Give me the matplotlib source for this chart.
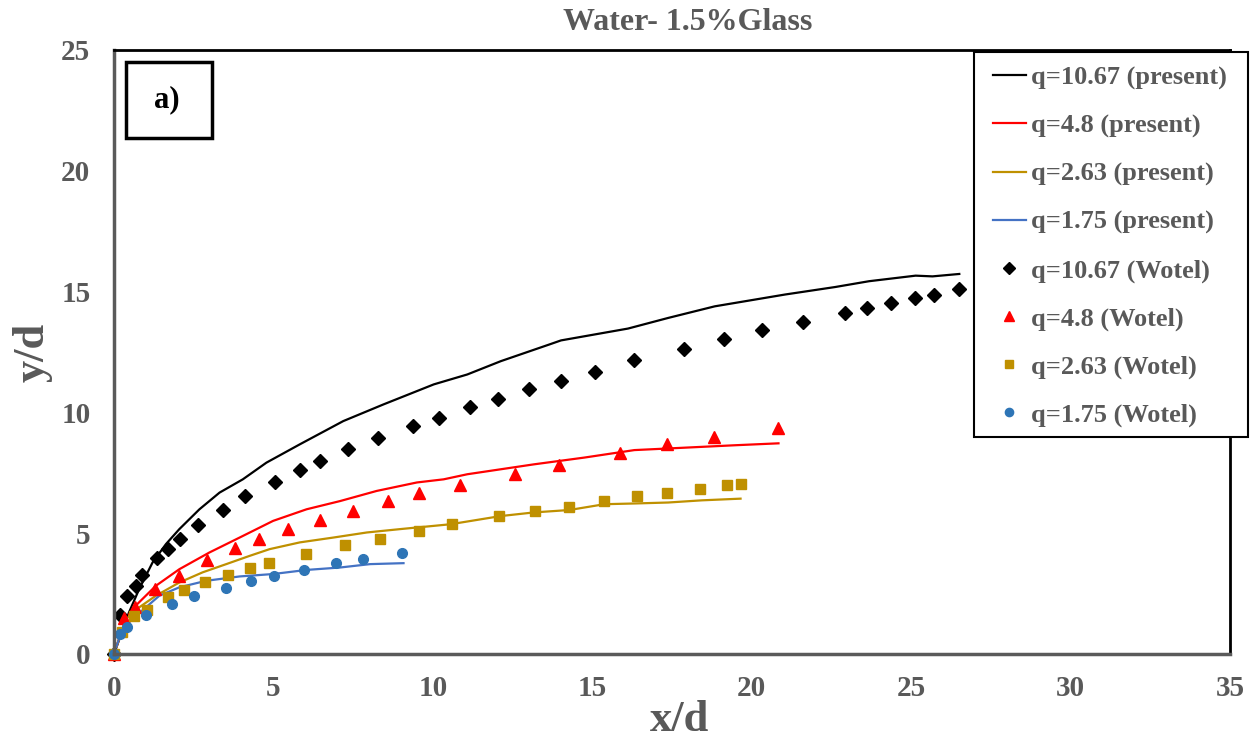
import matplotlib
matplotlib.use('Agg')
import matplotlib.pyplot as plt
from matplotlib.patches import Rectangle

plt.rcParams['font.family'] = ['Liberation Serif', 'DejaVu Serif']
plt.rcParams['font.weight'] = 'bold'

grey = '#595959'

# present model, lines
x_p1067 = [0, 0.47, 0.79, 1.21, 1.63, 2.05, 2.68, 3.31, 4.04, 4.78, 5.83, 7.19, 8.45,
           10.03, 11.08, 12.13, 13.65, 14.02, 16.12, 17.38, 18.84, 21.05, 22.62, 23.68,
           25.14, 25.67, 26.51]
y_p1067 = [0, 1.72, 2.69, 3.79, 4.55, 5.17, 5.99, 6.68, 7.23, 7.92, 8.68, 9.64, 10.33,
           11.16, 11.57, 12.12, 12.81, 12.98, 13.47, 13.91, 14.39, 14.88, 15.19, 15.43,
           15.66, 15.63, 15.73]

x_p48 = [0, 0.37, 0.68, 1.31, 2.05, 2.99, 3.94, 4.99, 6.04, 7.09, 8.24, 9.50, 10.34,
         11.08, 13.17, 14.75, 16.32, 17.90, 19.47, 20.84]
y_p48 = [0, 1.45, 2.00, 2.82, 3.51, 4.20, 4.82, 5.51, 5.99, 6.33, 6.75, 7.10, 7.23,
         7.44, 7.85, 8.13, 8.44, 8.54, 8.64, 8.72]

x_p263 = [0, 0.37, 0.79, 1.31, 2.05, 2.78, 3.52, 4.25, 4.88, 5.83, 6.88, 7.93, 8.98,
          10.55, 12.13, 13.17, 14.28, 15.38, 16.32, 17.38, 18.43, 19.65]
y_p263 = [0, 1.45, 1.93, 2.41, 2.96, 3.38, 3.72, 4.06, 4.34, 4.62, 4.82, 5.03, 5.17,
          5.37, 5.71, 5.86, 5.96, 6.20, 6.23, 6.27, 6.36, 6.43]

x_p175 = [0, 0.26, 0.58, 1.00, 1.42, 2.05, 2.89, 3.94, 4.99, 6.04, 7.09, 8.03, 9.08]
y_p175 = [0, 1.03, 1.45, 1.93, 2.41, 2.76, 3.03, 3.21, 3.31, 3.48, 3.58, 3.72, 3.76]

# Wotel, markers
x_w1067 = [0, 0.18, 0.42, 0.68, 0.89, 1.36, 1.70, 2.08, 2.62, 3.43, 4.12, 5.06, 5.83,
           6.46, 7.35, 8.29, 9.38, 10.18, 11.18, 12.04, 13.02, 14.02, 15.09, 16.32,
           17.87, 19.14, 20.31, 21.60, 22.91, 23.60, 24.36, 25.12, 25.73, 26.51]
y_w1067 = [0, 1.61, 2.38, 2.82, 3.26, 3.96, 4.34, 4.78, 5.34, 5.95, 6.52, 7.12, 7.62,
           7.99, 8.47, 8.93, 9.43, 9.78, 10.24, 10.55, 10.95, 11.32, 11.69, 12.15,
           12.64, 13.02, 13.39, 13.75, 14.10, 14.33, 14.52, 14.72, 14.86, 15.10]

x_w48 = [0, 0.31, 0.66, 1.29, 2.05, 2.91, 3.80, 4.54, 5.47, 6.46, 7.49, 8.58, 9.58,
         10.84, 12.57, 13.95, 15.87, 17.35, 18.81, 20.84]
y_w48 = [0, 1.48, 1.93, 2.69, 3.24, 3.88, 4.38, 4.75, 5.17, 5.55, 5.92, 6.33, 6.65,
         6.98, 7.47, 7.84, 8.31, 8.68, 8.98, 9.37]

x_w263 = [0, 0.26, 0.63, 1.03, 1.68, 2.20, 2.86, 3.57, 4.27, 4.86, 6.01, 7.24, 8.35,
          9.58, 10.60, 12.09, 13.20, 14.28, 15.38, 16.40, 17.33, 18.37, 19.23, 19.65]
y_w263 = [0, 0.90, 1.56, 1.83, 2.37, 2.64, 2.96, 3.28, 3.55, 3.77, 4.13, 4.52, 4.78,
          5.10, 5.38, 5.71, 5.92, 6.10, 6.33, 6.52, 6.68, 6.82, 7.01, 7.05]

x_w175 = [0, 0.19, 0.42, 1.00, 1.82, 2.52, 3.52, 4.31, 5.02, 5.96, 6.96, 7.82, 9.03]
y_w175 = [0, 0.83, 1.10, 1.61, 2.05, 2.38, 2.74, 3.02, 3.24, 3.47, 3.75, 3.93, 4.20]

c_black, c_red, c_gold, c_blue = 'black', '#FF0000', '#BF9000', '#4472C4'
c_blue_pt = '#2E75B6'

W, H = 1257, 742
fig = plt.figure(figsize=(W/100, H/100), dpi=100)
ax = fig.add_axes([114/W, 1-654/H, 1116/W, 604/H])

ax.plot(x_p1067, y_p1067, color=c_black, lw=1.6, label='q=10.67 (present)')
ax.plot(x_p48, y_p48, color=c_red, lw=1.6, label='q=4.8 (present)')
ax.plot(x_p263, y_p263, color=c_gold, lw=1.6, label='q=2.63 (present)')
ax.plot(x_p175, y_p175, color=c_blue, lw=1.6, label='q=1.75 (present)')
ax.plot(x_w1067, y_w1067, ls='none', marker='D', ms=7.5, color=c_black, clip_on=False,
        label='q=10.67 (Wotel)')
ax.plot(x_w48, y_w48, ls='none', marker='^', ms=9, color=c_red, clip_on=False,
        label='q=4.8 (Wotel)')
ax.plot(x_w263, y_w263, ls='none', marker='s', ms=7, color=c_gold, clip_on=False,
        label='q=2.63 (Wotel)')
ax.plot(x_w175, y_w175, ls='none', marker='o', ms=7, color=c_blue_pt, clip_on=False,
        label='q=1.75 (Wotel)')

ax.set_xlim(0, 35)
ax.set_ylim(0, 25)
ax.set_xticks(range(0, 36, 5))
ax.set_yticks(range(0, 26, 5))
ax.tick_params(length=0, labelsize=21, labelcolor=grey)
ax.tick_params(axis='x', pad=15)
ax.tick_params(axis='y', pad=17)
for lab in ax.get_xticklabels() + ax.get_yticklabels():
    lab.set_fontweight('bold')
for s in ['left', 'bottom']:
    ax.spines[s].set_color('#5a5a5a')
    ax.spines[s].set_linewidth(2.5)
for s in ['top', 'right']:
    ax.spines[s].set_color('black')
    ax.spines[s].set_linewidth(2)

fig.text(688/W, 1-23/H, 'Water- 1.5%Glass', ha='center', va='center',
         fontsize=23, fontweight='bold', color=grey)
fig.text(679/W, 1-720/H, 'x/d', ha='center', va='center',
         fontsize=32, fontweight='bold', color=grey)
fig.text(33/W, 1-352/H, 'y/d', ha='center', va='center', rotation=90,
         fontsize=32, fontweight='bold', color=grey)

# "a)" box
fig.patches.append(Rectangle((126/W, 1-138/H), 86/W, 76/H, transform=fig.transFigure,
                             fill=False, edgecolor='black', lw=2.5))
fig.text(167/W, 1-100/H, 'a)', ha='center', va='center', fontsize=22,
         fontweight='bold', color='black')

# legend frame drawn separately so the padding matches
fig.patches.append(Rectangle((974/W, 1-437/H), 274/W, 385/H, transform=fig.transFigure,
                             facecolor='white', edgecolor='black', lw=1.5, zorder=3))
handles, labels = ax.get_legend_handles_labels()
leg = fig.legend(handles, labels, loc='upper left', bbox_to_anchor=(993/W, 1-66/H),
                 bbox_transform=fig.transFigure, borderaxespad=0, borderpad=0,
                 prop={'size': 19, 'weight': 'bold'}, labelspacing=0.92,
                 handlelength=1.25, handletextpad=0.2, frameon=False, numpoints=1,
                 markerscale=0.85)
leg.set_zorder(5)
for t in leg.get_texts():
    t.set_color(grey)

fig.savefig('out.png', dpi=100)
